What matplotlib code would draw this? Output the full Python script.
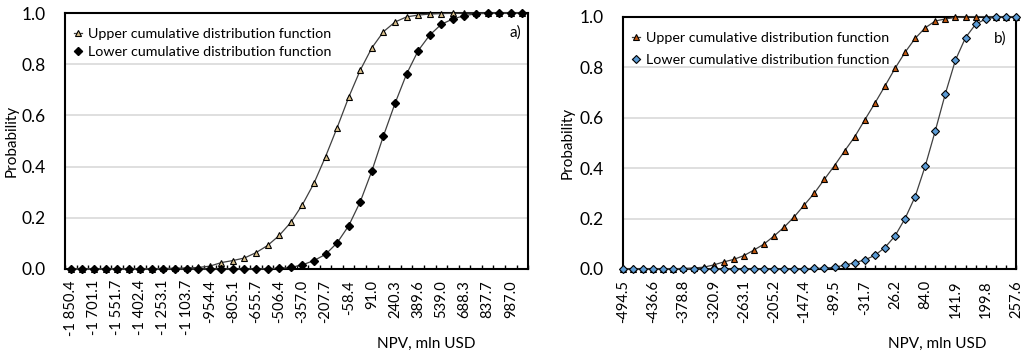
import numpy as np
import matplotlib
matplotlib.use("Agg")
import matplotlib.pyplot as plt

plt.rcParams['font.family'] = ['Lato', 'DejaVu Sans']

# ---------------- chart a) ----------------
a_labels = ["-1 850.4", "-1 701.1", "-1 551.7", "-1 402.4", "-1 253.1", "-1 103.7",
            "-954.4", "-805.1", "-655.7", "-506.4", "-357.0", "-207.7", "-58.4",
            "91.0", "240.3", "389.6", "539.0", "688.3", "837.7", "987.0"]
a_upper = [0, 0, 0, 0, 0, 0, 0.001, 0.001, 0.002, 0.003,
           0.004, 0.006, 0.011, 0.025, 0.033, 0.043, 0.064, 0.092, 0.131, 0.182,
           0.251, 0.335, 0.439, 0.552, 0.671, 0.777, 0.864, 0.927, 0.965, 0.985,
           0.992, 0.996, 0.998, 0.999, 1, 1, 1, 1, 1, 1]
a_lower = [0, 0, 0, 0, 0, 0, 0, 0, 0, 0,
           0, 0, 0, 0, 0, 0, 0, 0.001, 0.003, 0.006,
           0.016, 0.033, 0.057, 0.102, 0.169, 0.263, 0.383, 0.520, 0.647, 0.762,
           0.853, 0.914, 0.956, 0.977, 0.990, 0.997, 0.999, 1, 1, 1]

# ---------------- chart b) ----------------
b_labels = ["-494.5", "-436.6", "-378.8", "-320.9", "-263.1", "-205.2", "-147.4",
            "-89.5", "-31.7", "26.2", "84.0", "141.9", "199.8", "257.6"]
b_upper = [0, 0, 0, 0, 0.001, 0.001, 0.002, 0.004, 0.007, 0.016,
           0.028, 0.038, 0.053, 0.075, 0.099, 0.131, 0.166, 0.207, 0.254, 0.301,
           0.356, 0.410, 0.468, 0.524, 0.591, 0.657, 0.725, 0.795, 0.859, 0.914,
           0.956, 0.983, 0.991, 0.997, 0.999, 1, 1, 1, 1, 1]
b_lower = [0, 0, 0, 0, 0, 0, 0, 0, 0, 0,
           0, 0, 0, 0, 0, 0, 0, 0, 0.001, 0.002,
           0.003, 0.007, 0.015, 0.025, 0.036, 0.054, 0.085, 0.131, 0.200, 0.287,
           0.408, 0.548, 0.695, 0.828, 0.917, 0.970, 0.991, 0.998, 1, 1]

leg_up = "Upper cumulative distribution function"
leg_lo = "Lower cumulative distribution function"

fig = plt.figure(figsize=(10.27, 3.55), dpi=100)
ax1 = fig.add_axes([0.0633, 0.2423, 0.451, 0.721])
ax2 = fig.add_axes([0.6066, 0.2423, 0.3826, 0.7107])


def style_axes(ax, xlab_pos, ylab_x):
    ax.set_ylim(0, 1.0)
    ax.set_yticks([0, 0.2, 0.4, 0.6, 0.8, 1.0])
    ax.set_yticklabels(["0.0", "0.2", "0.4", "0.6", "0.8", "1.0"])
    ax.yaxis.grid(True, color="#d9d9d9", linewidth=1.2)
    ax.set_axisbelow(True)
    for s in ax.spines.values():
        s.set_linewidth(1.5)
        s.set_color("black")
    ax.tick_params(axis="y", length=0, labelsize=12.5, pad=14)
    ax.tick_params(axis="x", labelsize=10.6, labelrotation=90, pad=5)
    ax.set_ylabel("Probability", fontsize=11)
    ax.yaxis.set_label_coords(ylab_x, 0.5)
    ax.set_xlabel("NPV, mln USD", fontsize=11)
    ax.xaxis.set_label_coords(xlab_pos[0], xlab_pos[1])


# chart a
xa = np.arange(len(a_upper))
ax1.plot(xa, a_upper, color="#404040", linewidth=0.9, marker="^", markersize=4.6,
         markerfacecolor="#d9c08c", markeredgecolor="black", markeredgewidth=0.8,
         label=leg_up, clip_on=False, zorder=3)
ax1.plot(xa, a_lower, color="#404040", linewidth=0.9, marker="D", markersize=3.6,
         markerfacecolor="black", markeredgecolor="black",
         label=leg_lo, clip_on=False, zorder=3)
ax1.set_xlim(-0.5, len(a_upper) - 0.5)
ax1.set_xticks(np.arange(0, len(a_upper), 2))
ax1.set_xticklabels(a_labels)
ax1.set_xticks(np.arange(-0.5, len(a_upper), 1), minor=True)
style_axes(ax1, (0.78, -0.266), -0.10)
ax1.tick_params(axis="x", which="major", length=0, pad=8)
ax1.tick_params(axis="x", which="minor", direction="in", length=3, width=1)
ax1.text(0.985, 0.925, "a)", transform=ax1.transAxes, ha="right", va="center",
         fontsize=11)
ax1.legend(loc="upper left", bbox_to_anchor=(0.0, 0.975), frameon=False,
           fontsize=10.3, handlelength=0.6, handletextpad=0.4, labelspacing=0.45,
           borderaxespad=0.2)

# chart b
xb = np.arange(len(b_upper))
ax2.plot(xb, b_upper, color="#404040", linewidth=0.9, marker="^", markersize=4.6,
         markerfacecolor="#c55a11", markeredgecolor="black", markeredgewidth=0.8,
         label=leg_up, clip_on=False, zorder=3)
ax2.plot(xb, b_lower, color="#404040", linewidth=0.9, marker="D", markersize=3.6,
         markerfacecolor="#5b9bd5", markeredgecolor="black", markeredgewidth=0.8,
         label=leg_lo, clip_on=False, zorder=3)
ax2.set_xlim(0, len(b_upper) - 1)
ax2.set_xticks(np.arange(0, len(b_upper), 3))
ax2.set_xticklabels(b_labels)
ax2.set_xticks(np.arange(0, len(b_upper), 1), minor=True)
style_axes(ax2, (0.80, -0.27), -0.124)
ax2.tick_params(axis="x", which="major", direction="in", length=3, width=1, pad=8)
ax2.tick_params(axis="x", which="minor", direction="in", length=3, width=1)
ax2.text(0.975, 0.915, "b)", transform=ax2.transAxes, ha="right", va="center",
         fontsize=11)
ax2.legend(loc="upper left", bbox_to_anchor=(0.0, 0.975), frameon=False,
           fontsize=10.3, handlelength=0.6, handletextpad=0.4, labelspacing=0.75,
           borderaxespad=0.2)

fig.savefig("out.png", dpi=100)
